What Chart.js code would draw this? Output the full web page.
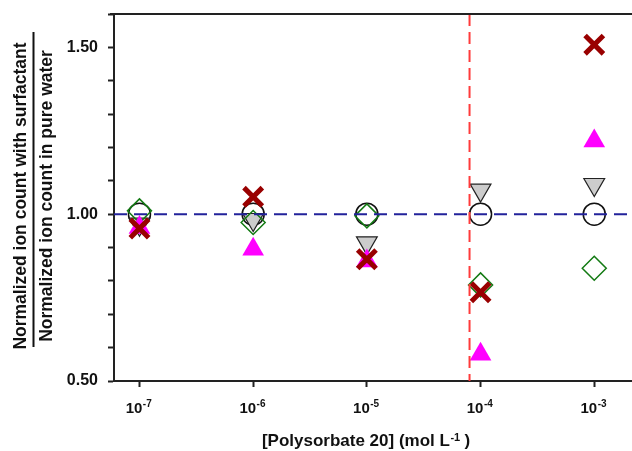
<!DOCTYPE html>
<html>
<head>
<meta charset="utf-8">
<script src="https://cdn.jsdelivr.net/npm/chart.js@4.4.0/dist/chart.umd.min.js"></script>
<style>
  body { margin: 0; background: #fff; }
</style>
</head>
<body>
<canvas id="ionChart" width="632" height="451"></canvas>
<script>
// log10 of the polysorbate 20 concentration (mol L-1)
const concExponents = [-7, -6, -5, -4, -3]

// ratio of normalized ion counts (surfactant / pure water), one array per marker
const circleRatio   = [1.00, 1.00, 1.00, 1.00, 1.00]
const diamondRatio  = [1.01, 0.975, 0.995, 0.788, 0.838]
const invTriRatio   = [0.97, 0.984, 0.914, 1.072, 1.089]
const triangleRatio = [0.96, 0.895, 0.86, 0.58, 1.219]
const crossRatio    = [0.957, 1.052, 0.865, 0.766, 1.508]

const yMajorTicks = [0.50, 0.75, 1.00, 1.25, 1.50]
const cmcExponent = Math.log10(8e-5)  // red dashed line
const baseline = 1.00                  // blue dashed line

const FONT = "'Liberation Sans', Arial, sans-serif"

// minor ticks every 0.05 between 0.50 and 1.60
const yTicks = []
for (let i = 50; i <= 160; i += 5) yTicks.push(i / 100)

const toPoints = arr => arr.map((v, i) => ({ x: concExponents[i], y: v }))

const refLines = {
    id: 'refLines',
    afterDatasetsDraw(chart) {
        const { ctx, chartArea: a, scales: { x, y } } = chart
        ctx.save()
        ctx.lineWidth = 2
        // horizontal line at 1.00
        ctx.strokeStyle = '#22229a'
        ctx.setLineDash([13, 7])
        const py = y.getPixelForValue(baseline)
        ctx.beginPath()
        ctx.moveTo(a.left, py)
        ctx.lineTo(a.right, py)
        ctx.stroke()
        // vertical line at the CMC
        ctx.strokeStyle = '#ff3b3b'
        ctx.setLineDash([12, 6])
        const px = x.getPixelForValue(cmcExponent)
        ctx.beginPath()
        ctx.moveTo(px, a.top)
        ctx.lineTo(px, a.bottom)
        ctx.stroke()
        ctx.restore()
    }
}

const axisText = {
    id: 'axisText',
    afterDraw(chart) {
        const { ctx, chartArea: a, scales: { x } } = chart
        ctx.save()
        ctx.fillStyle = '#111'

        // top frame line
        ctx.strokeStyle = '#222'
        ctx.lineWidth = 2
        ctx.beginPath()
        ctx.moveTo(a.left - 4, a.top)
        ctx.lineTo(a.right, a.top)
        ctx.stroke()

        // x tick labels as 10^n
        ctx.textAlign = 'left'
        ctx.textBaseline = 'alphabetic'
        concExponents.forEach(e => {
            const px = x.getPixelForValue(e)
            const sup = String(e)
            ctx.font = 'bold 15px ' + FONT
            const w1 = ctx.measureText('10').width
            ctx.font = 'bold 10px ' + FONT
            const w2 = ctx.measureText(sup).width
            const left = px - (w1 + w2) / 2 - 1
            ctx.font = 'bold 15px ' + FONT
            ctx.fillText('10', left, 413)
            ctx.font = 'bold 10px ' + FONT
            ctx.fillText(sup, left + w1 + 0.5, 407)
        })

        // x axis title
        const main = '[Polysorbate 20] (mol L'
        ctx.font = 'bold 17px ' + FONT
        const wm = ctx.measureText(main).width
        const wc = ctx.measureText(' )').width
        ctx.font = 'bold 11px ' + FONT
        const ws = ctx.measureText('-1').width
        let tx = 366 - (wm + ws + wc) / 2
        ctx.font = 'bold 17px ' + FONT
        ctx.fillText(main, tx, 446)
        ctx.font = 'bold 11px ' + FONT
        ctx.fillText('-1', tx + wm + 0.5, 441)
        ctx.font = 'bold 17px ' + FONT
        ctx.fillText(' )', tx + wm + ws, 446)

        // y axis title as a fraction
        ctx.font = 'bold 17.5px ' + FONT
        ctx.textAlign = 'center'
        ctx.textBaseline = 'middle'
        const cy = 196
        ctx.save()
        ctx.translate(21, cy)
        ctx.rotate(-Math.PI / 2)
        ctx.fillText('Normalized ion count with surfactant', 0, 0)
        ctx.restore()
        ctx.save()
        ctx.translate(47, cy)
        ctx.rotate(-Math.PI / 2)
        ctx.fillText('Normalized ion count in pure water', 0, 0)
        ctx.restore()
        ctx.strokeStyle = '#111'
        ctx.beginPath()
        ctx.moveTo(33.5, 32)
        ctx.lineTo(33.5, 347)
        ctx.stroke()

        ctx.restore()
    }
}

new Chart(document.getElementById('ionChart'), {
    type: 'scatter',
    data: {
        // first dataset is drawn on top
        datasets: [
            {
                label: 'cross',
                data: toPoints(crossRatio),
                pointStyle: 'crossRot',
                pointRadius: 13,
                borderWidth: 5,
                borderColor: '#990000',
                backgroundColor: '#990000'
            },
            {
                label: 'triangle',
                data: toPoints(triangleRatio),
                pointStyle: 'triangle',
                pointRadius: 12.5,
                borderWidth: 0,
                borderColor: '#ff00ff',
                backgroundColor: '#ff00ff'
            },
            {
                label: 'diamond',
                data: toPoints(diamondRatio),
                pointStyle: 'rectRot',
                pointRadius: 12,
                borderWidth: 1.5,
                borderColor: '#137a13',
                backgroundColor: 'rgba(0,0,0,0)'
            },
            {
                label: 'inverted triangle',
                data: toPoints(invTriRatio),
                pointStyle: 'triangle',
                rotation: 180,
                pointRadius: 12,
                borderWidth: 1.2,
                borderColor: '#222',
                backgroundColor: '#cccccc'
            },
            {
                label: 'circle',
                data: toPoints(circleRatio),
                pointStyle: 'circle',
                pointRadius: 11,
                borderWidth: 1.5,
                borderColor: '#111',
                backgroundColor: 'rgba(0,0,0,0)'
            }
        ]
    },
    options: {
        responsive: false,
        animation: false,
        layout: { autoPadding: false, padding: { top: 14, right: 0, left: 0, bottom: 0 } },
        plugins: {
            legend: { display: false },
            tooltip: { enabled: false }
        },
        scales: {
            x: {
                type: 'linear',
                min: -7.224,
                max: -2.668,
                afterBuildTicks: scale => { scale.ticks = concExponents.map(v => ({ value: v })) },
                afterFit: scale => {
                    scale.height = 70
                    scale.paddingLeft = 0
                    scale.paddingRight = 0
                },
                ticks: { display: false },
                grid: { drawOnChartArea: false, drawTicks: true, tickLength: 6, tickWidth: 2, tickColor: '#222' },
                border: { display: true, color: '#222', width: 2 }
            },
            y: {
                min: 0.5,
                max: 1.6,
                afterBuildTicks: scale => { scale.ticks = yTicks.map(v => ({ value: v })) },
                afterFit: scale => {
                    scale.width = 114
                    scale.paddingTop = 0
                    scale.paddingBottom = 0
                },
                ticks: {
                    padding: 10,
                    color: '#111',
                    font: { family: FONT, size: 16, weight: 'bold' },
                    callback: v => yMajorTicks.some(t => Math.abs(t - v) < 1e-6) ? v.toFixed(2) : ''
                },
                grid: { drawOnChartArea: false, drawTicks: true, tickLength: 6, tickWidth: 2, tickColor: '#222' },
                border: { display: true, color: '#222', width: 2 }
            }
        }
    },
    plugins: [refLines, axisText]
})
</script>
</body>
</html>
